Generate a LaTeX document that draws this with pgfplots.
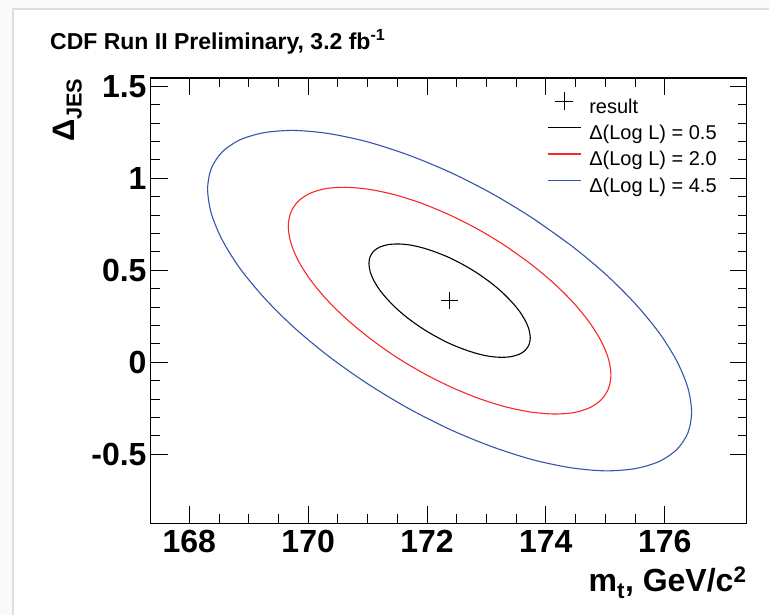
\documentclass[border=0pt]{standalone}
\usepackage{fontspec}
\setmainfont{Liberation Sans}
\usepackage{pgfplots}
\pgfplotsset{compat=1.18}
\definecolor{rootred}{RGB}{250,40,40}
\definecolor{rootblue}{RGB}{55,85,170}
\definecolor{canvasbg}{RGB}{250,250,250}
\definecolor{canvasline}{RGB}{222,222,222}
\pgfplotsset{
  lineleg/.style={legend image code/.code={\draw[##1] (0pt,7pt) -- (33pt,7pt);}},
  markleg/.style={legend image code/.code={\draw[##1] plot coordinates {(16.5pt,7pt)};}},
}
\begin{document}
\begin{tikzpicture}[x=1pt,y=1pt]
\path[use as bounding box, fill=canvasbg] (0,0) rectangle (769,615);
\fill[white] (14,0) rectangle (769,605);
\draw[canvasline, line width=2pt] (13,0) -- (13,606) -- (769,606);
\node[anchor=base west, inner sep=0pt, font=\fontsize{23}{23}\selectfont\bfseries] at (50,565) {CDF Run II Preliminary, 3.2 fb\textsuperscript{-1}};
\begin{axis}[
  scale only axis, width=596pt, height=445.3pt,
  at={(150.7pt,91.7pt)}, anchor=south west,
  xmin=167.35, xmax=177.38, ymin=-0.875, ymax=1.545,
  xtick={168,170,172,174,176}, ytick={-0.5,0,0.5,1,1.5},
  minor x tick num=3, minor y tick num=4,
  tick align=inside, tick pos=both, xticklabel pos=lower, yticklabel pos=left,
  major tick length=17pt, minor tick length=9pt,
  axis line style={line width=1.4pt},
  every tick/.append style={black, line width=0.9pt},
  ticklabel style={font=\fontsize{32}{32}\selectfont\bfseries, inner sep=0pt},
  /pgf/number format/assume math mode=true,
  xticklabel shift=7pt, yticklabel shift=4pt,
  xlabel={m\textsubscript{t}, GeV/c\textsuperscript{2}},
  every axis x label/.style={at={(rel axis cs:1,0)}, anchor=base east, yshift=-68.7pt, inner sep=0pt, font=\fontsize{32}{32}\selectfont\bfseries},
  ylabel={Δ\textsubscript{JES}},
  every axis y label/.style={at={(rel axis cs:0,1)}, xshift=-75.7pt, rotate=90, anchor=base east, inner sep=0pt, font=\fontsize{31}{31}\selectfont\bfseries},
  legend style={at={(rel axis cs:0.665,0.968)}, anchor=north west, draw=none, fill=none,
    font=\fontsize{20}{20}\selectfont, inner sep=0pt, row sep=7.2pt, column sep=8pt,
    nodes={inner sep=0pt, text height=14.5pt, text depth=4.7pt}},
  legend cell align=left,
]
\addplot[only marks, mark=+, mark size=8.8pt, mark options={line width=1pt, black}, markleg]
  coordinates {(172.38,0.335)};
\addlegendentry{result}
\addplot[black, line width=1.1pt, smooth, lineleg] coordinates {
(173.059,0.436) (172.844,0.485) (172.616,0.529) (172.380,0.568) (172.144,0.599) (171.916,0.623)
(171.701,0.638) (171.507,0.643) (171.340,0.639) (171.204,0.626) (171.104,0.604) (171.043,0.574)
(171.023,0.537) (171.043,0.493) (171.104,0.445) (171.204,0.393) (171.340,0.340) (171.507,0.286)
(171.701,0.234) (171.916,0.185) (172.144,0.141) (172.380,0.102) (172.616,0.071) (172.844,0.047)
(173.059,0.032) (173.253,0.027) (173.420,0.031) (173.556,0.044) (173.656,0.066) (173.717,0.096)
(173.738,0.133) (173.717,0.177) (173.656,0.225) (173.556,0.277) (173.420,0.330) (173.253,0.384)
(173.059,0.436) (172.844,0.485)};
\addlegendentry{Δ(Log L) = 0.5}
\addplot[rootred, line width=1.1pt, smooth, lineleg] coordinates {
(173.738,0.536) (173.309,0.635) (172.851,0.724) (172.380,0.801) (171.909,0.864) (171.451,0.911)
(171.022,0.940) (170.635,0.951) (170.300,0.944) (170.029,0.918) (169.829,0.874) (169.706,0.813)
(169.665,0.739) (169.706,0.652) (169.829,0.555) (170.029,0.452) (170.300,0.345) (170.635,0.238)
(171.022,0.134) (171.451,0.035) (171.909,-0.054) (172.380,-0.131) (172.851,-0.194) (173.309,-0.241)
(173.738,-0.270) (174.125,-0.281) (174.460,-0.274) (174.731,-0.248) (174.931,-0.204) (175.054,-0.143)
(175.095,-0.069) (175.054,0.018) (174.931,0.115) (174.731,0.218) (174.460,0.325) (174.125,0.432)
(173.738,0.536) (173.309,0.635)};
\addlegendentry{Δ(Log L) = 2.0}
\addplot[rootblue, line width=1.1pt, smooth, lineleg] coordinates {
(174.416,0.637) (173.773,0.784) (173.087,0.918) (172.380,1.034) (171.673,1.128) (170.987,1.199)
(170.344,1.243) (169.762,1.260) (169.261,1.248) (168.853,1.209) (168.553,1.143) (168.369,1.053)
(168.308,0.941) (168.369,0.810) (168.553,0.665) (168.853,0.510) (169.261,0.350) (169.762,0.189)
(170.344,0.033) (170.987,-0.114) (171.673,-0.248) (172.380,-0.364) (173.087,-0.458) (173.773,-0.529)
(174.416,-0.573) (174.998,-0.590) (175.499,-0.578) (175.907,-0.539) (176.207,-0.473) (176.391,-0.383)
(176.453,-0.271) (176.391,-0.140) (176.207,0.005) (175.907,0.160) (175.499,0.320) (174.998,0.481)
(174.416,0.637) (173.773,0.784)};
\addlegendentry{Δ(Log L) = 4.5}
\end{axis}
\end{tikzpicture}
\end{document}
